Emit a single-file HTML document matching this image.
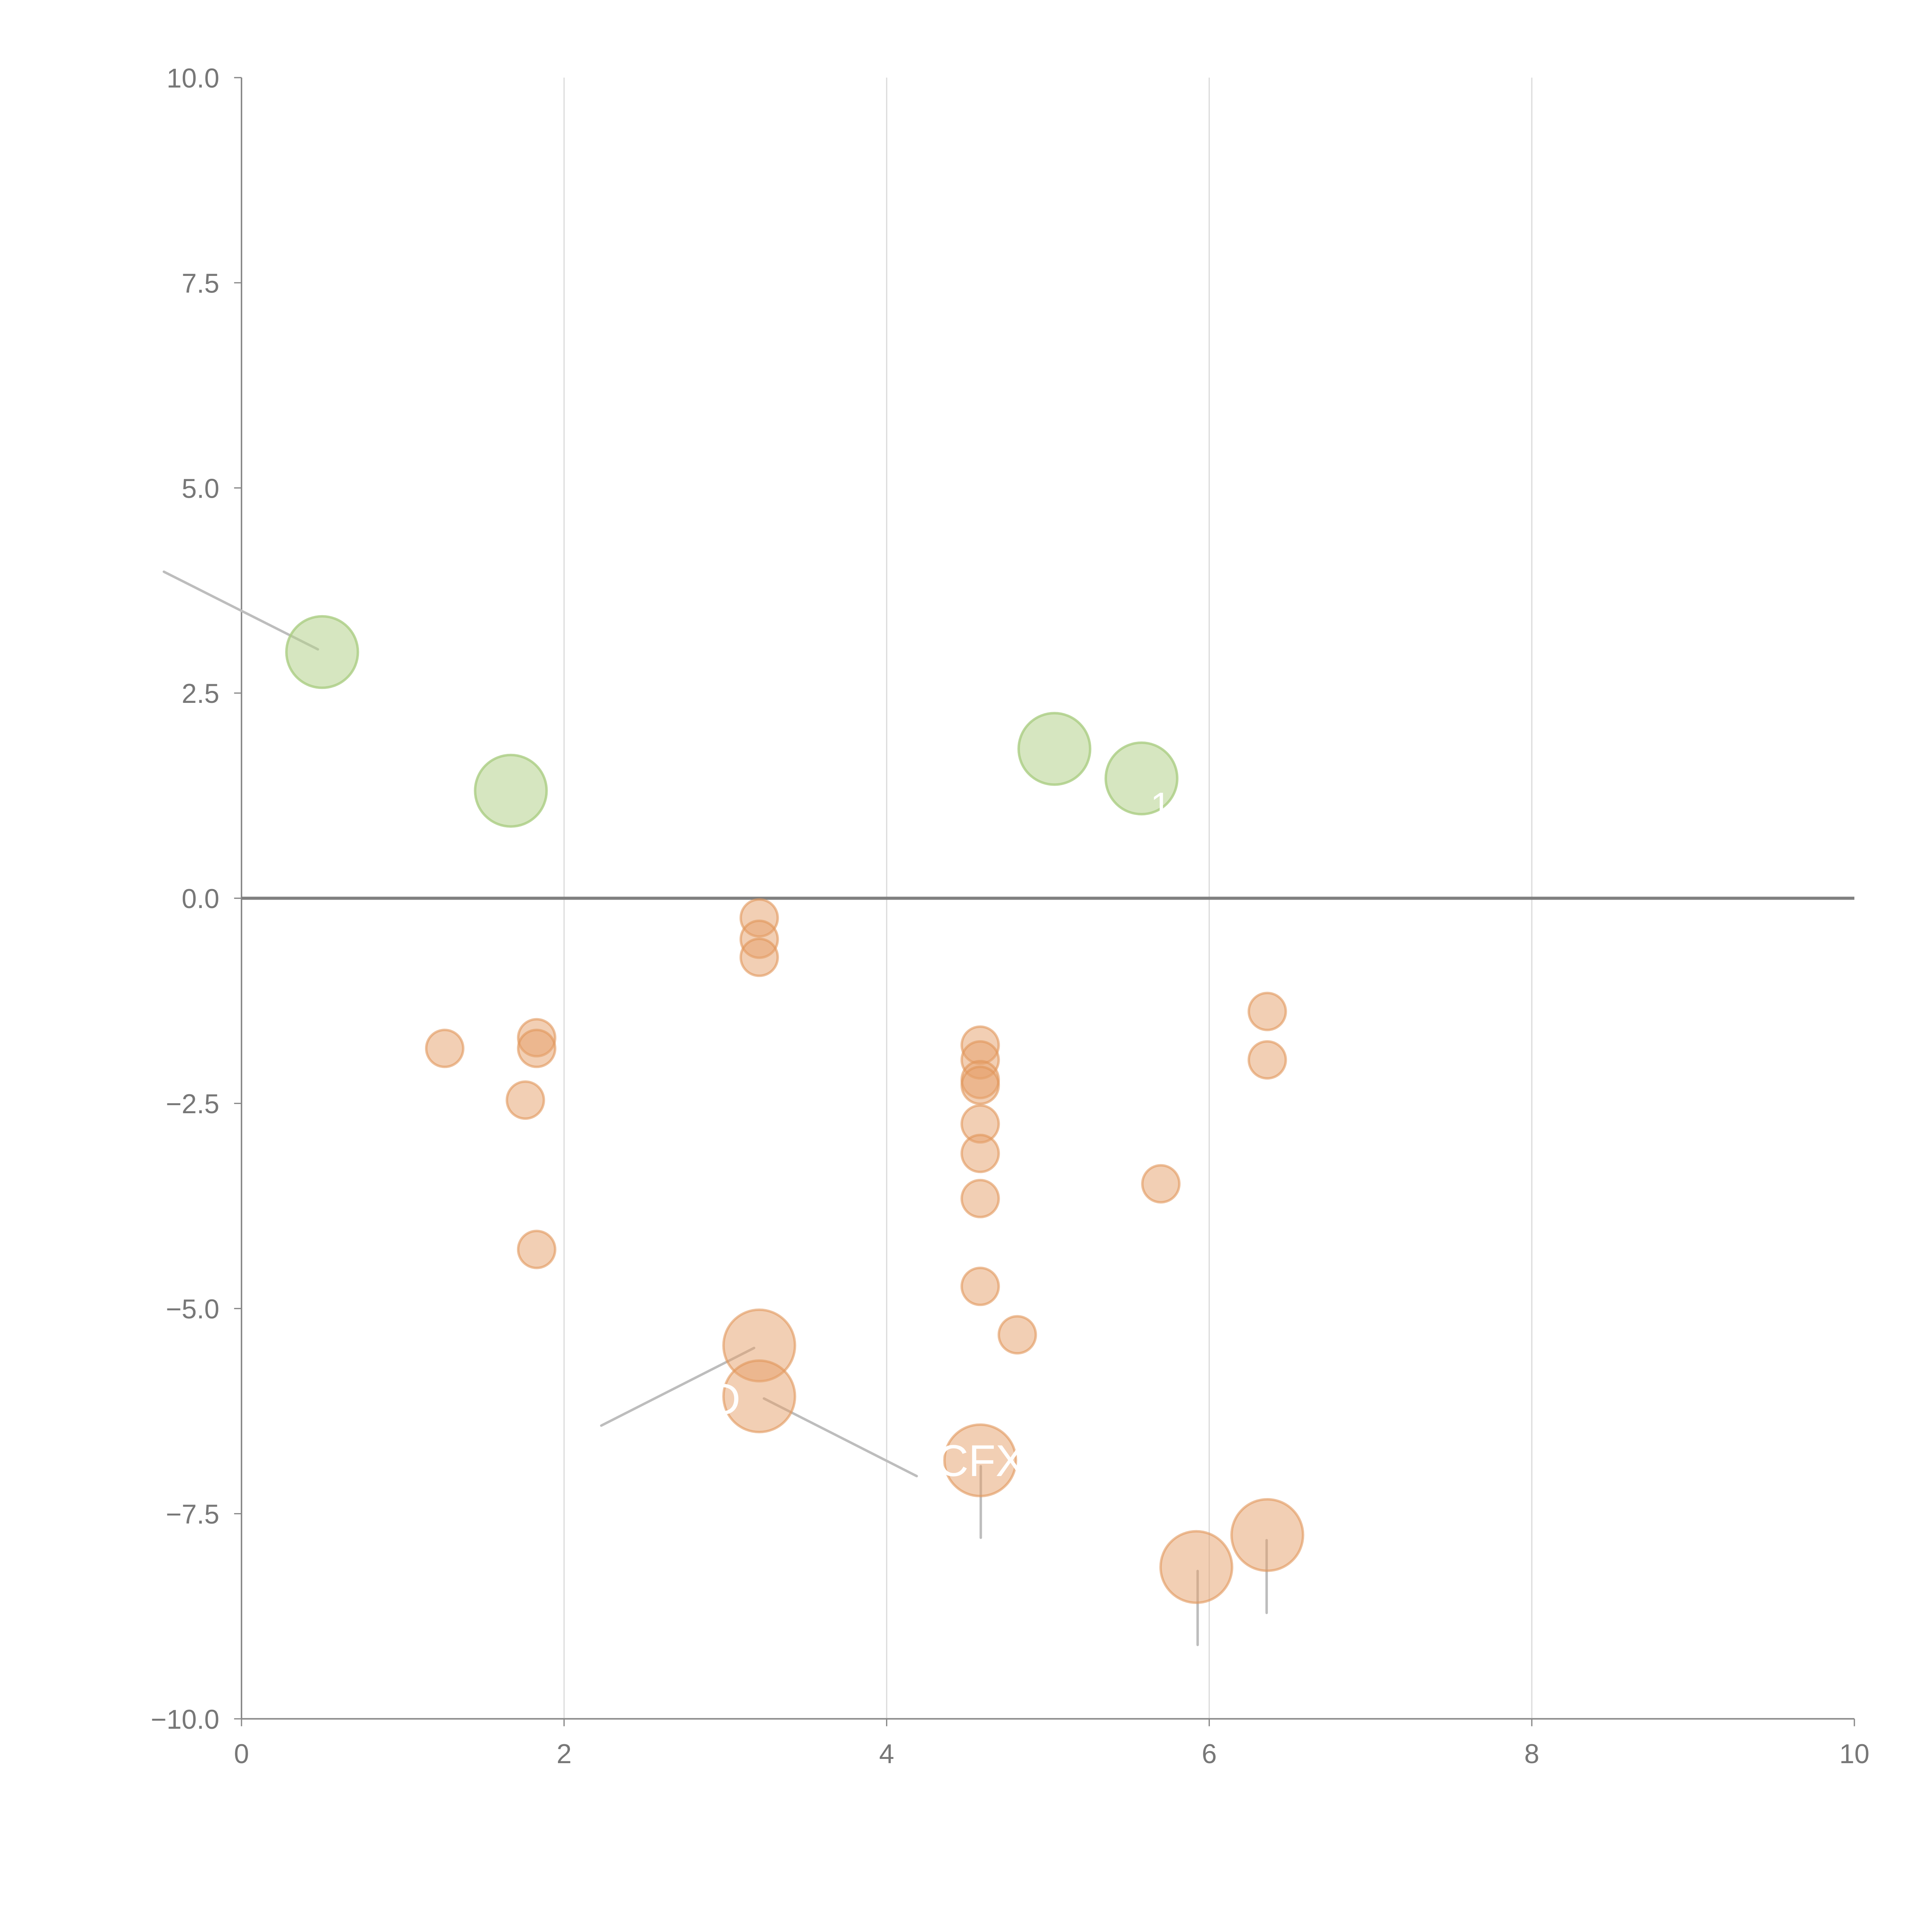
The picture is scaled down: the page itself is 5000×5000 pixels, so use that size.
<!DOCTYPE html>
<html><head><meta charset="utf-8"><style>
html,body{margin:0;padding:0;background:#fff;}
svg{display:block;}
text{font-family:"Liberation Sans",sans-serif;}
</style></head><body>
<svg id="chart" width="5000" height="5000" viewBox="0 0 1568 1568" xmlns="http://www.w3.org/2000/svg">
<g id="grid"></g>
<g id="axes"></g>
<g id="leaders"></g>
<g id="marks"></g>
<g id="labels"></g>
</svg>
<script>
const xTicks=[0,2,4,6,8,10];
const xTickLabels=["0","2","4","6","8","10"];
const yTicks=[10,7.5,5,2.5,0,-2.5,-5,-7.5,-10];
const yTickLabels=["10.0","7.5","5.0","2.5","0.0","\u22122.5","\u22125.0","\u22127.5","\u221210.0"];
const greenX=[0.50,1.67,5.04,5.58];
const greenY=[3.00,1.31,1.82,1.46];
const smallX=[3.21,3.21,3.21,1.26,1.83,1.83,1.76,1.83,4.58,4.58,4.58,4.58,4.58,4.58,4.58,4.58,4.81,5.70,6.36,6.36];
const smallY=[-0.24,-0.50,-0.72,-1.83,-1.70,-1.83,-2.46,-4.28,-1.79,-1.97,-2.21,-2.28,-2.75,-3.11,-3.66,-4.73,-5.32,-3.48,-1.38,-1.97];
const bigX=[3.21,3.21,4.58,5.92,6.36];
const bigY=[-5.45,-6.07,-6.85,-8.15,-7.76];
const NS="http://www.w3.org/2000/svg";
const X0=196,X1=1505,Y0=1395,Y1=63;
function sx(v){return X0+(v-0)/(10-0)*(X1-X0);}
function sy(v){return Y0-(v+10)/20*(Y0-Y1);}
function mk(tag,attrs,parent){const e=document.createElementNS(NS,tag);for(const k in attrs)e.setAttribute(k,attrs[k]);parent.appendChild(e);return e;}
const grid=document.getElementById('grid'),axes=document.getElementById('axes'),marks=document.getElementById('marks'),leaders=document.getElementById('leaders'),labels=document.getElementById('labels');
xTicks.forEach((t,i)=>{
  if(t>0&&t<10){const g=mk('line',{x1:sx(t),x2:sx(t),y1:Y1,y2:Y0,stroke:'#dcdcdc','stroke-width':1},grid);
  
  }
  const tk=mk('line',{x1:sx(t),x2:sx(t),y1:Y0,y2:Y0+6,stroke:'#888','stroke-width':1},axes);
  
  
  const tx=mk('text',{x:sx(t),y:Y0+36,'text-anchor':'middle','font-size':22,fill:'#777'},axes);
  tx.textContent=xTickLabels[i];
  
  
});
yTicks.forEach((t,i)=>{
  const tk=mk('line',{x1:X0-6,x2:X0,y1:sy(t),y2:sy(t),stroke:'#888','stroke-width':1},axes);
  
  
  const tx=mk('text',{x:X0-18,y:sy(t)+8,'text-anchor':'end','font-size':22,fill:'#777'},axes);
  tx.textContent=yTickLabels[i];
  
  
});
const ya=mk('line',{x1:X0,x2:X0,y1:Y1,y2:Y0,stroke:'#888','stroke-width':1.2},axes);


const xa=mk('line',{x1:X0,x2:X1,y1:Y0,y2:Y0,stroke:'#888','stroke-width':1.2},axes);


const zl=mk('line',{x1:X0,x2:X1,y1:sy(0),y2:sy(0),stroke:'#808080','stroke-width':2.5},axes);


[[133,464,258,527],[488,1157,612,1094],[620,1135,744,1198],[796,1190,796,1248],[972,1275,972,1335],[1028,1250,1028,1309]].forEach(l=>{
  const e=mk('line',{x1:l[0],y1:l[1],x2:l[2],y2:l[3],stroke:'#bdbdbd','stroke-width':2,'stroke-linecap':'round'},leaders);
  
  
});
greenX.forEach((v,i)=>{
  const c=mk('circle',{cx:sx(v),cy:sy(greenY[i]),r:29,fill:'rgba(180,210,140,0.55)',stroke:'rgba(170,205,130,0.8)','stroke-width':2},marks);
  
  
});
smallX.forEach((v,i)=>{
  const c=mk('circle',{cx:sx(v),cy:sy(smallY[i]),r:15,fill:'rgba(230,160,105,0.5)',stroke:'rgba(225,150,90,0.6)','stroke-width':2},marks);
  
  
});
bigX.forEach((v,i)=>{
  const c=mk('circle',{cx:sx(v),cy:sy(bigY[i]),r:29,fill:'rgba(230,160,105,0.5)',stroke:'rgba(225,150,90,0.6)','stroke-width':2},marks);
  
  
});
const cfx=mk('text',{x:796,y:1198,'text-anchor':'middle','font-size':36,fill:'#fff'},labels);
cfx.textContent='CFX';


const lb=mk('text',{x:588,y:1148,'text-anchor':'middle','font-size':36,fill:'#fff'},labels);
lb.textContent='D';


const l1=mk('text',{x:942,y:664,'text-anchor':'middle','font-size':30,fill:'#fff'},labels);
l1.textContent='1';


</script>
</body></html>
